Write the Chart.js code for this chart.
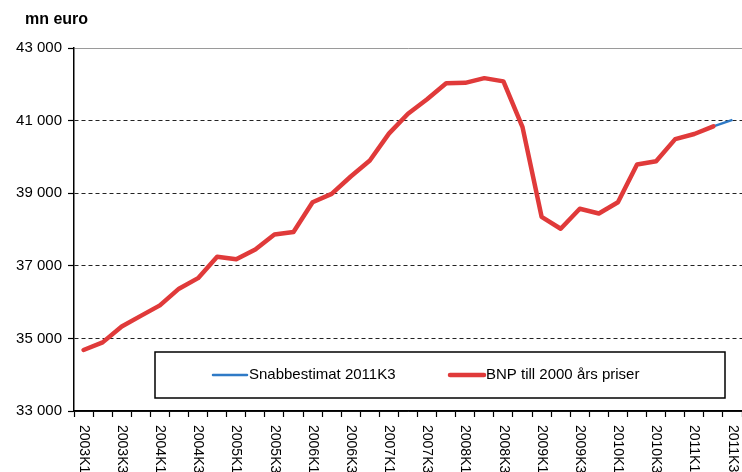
<!DOCTYPE html>
<html>
<head>
<meta charset="utf-8">
<script src="https://cdn.jsdelivr.net/npm/chart.js@4.4.1/dist/chart.umd.min.js"></script>
<style>
html, body { margin: 0; padding: 0; background: #fff; }
#wrap { width: 742px; height: 472px; }
</style>
</head>
<body>
<div id="wrap"><canvas id="myChart" width="742" height="472"></canvas></div>
<script>
// kvartal 2003K1 .. 2011K3
const kvartal = [
    '2003K1', '2003K2', '2003K3', '2003K4', '2004K1', '2004K2', '2004K3', '2004K4',
    '2005K1', '2005K2', '2005K3', '2005K4', '2006K1', '2006K2', '2006K3', '2006K4',
    '2007K1', '2007K2', '2007K3', '2007K4', '2008K1', '2008K2', '2008K3', '2008K4',
    '2009K1', '2009K2', '2009K3', '2009K4', '2010K1', '2010K2', '2010K3', '2010K4',
    '2011K1', '2011K2', '2011K3'
];

// BNP till 2000 års priser, mn euro
const bnp = [
    34680, 34890, 35330, 35620, 35910, 36370, 36660, 37250,
    37180, 37450, 37860, 37930, 38750, 38980, 39460, 39900,
    40640, 41190, 41590, 42030, 42040, 42170, 42080, 40820,
    38350, 38020, 38570, 38440, 38750, 39790, 39880, 40490,
    40630, 40840, null
];

// Snabbestimat 2011K3
const snabb = [
    null, null, null, null, null, null, null, null,
    null, null, null, null, null, null, null, null,
    null, null, null, null, null, null, null, null,
    null, null, null, null, null, null, null, null,
    null, 40840, 41020
];

const yTicks = [33000, 35000, 37000, 39000, 41000, 43000];

const fontFam = 'Arial, "Liberation Sans", sans-serif';

// rubrik, x-etiketter (lodräta, uppifrån och ned) + legendruta
const extras = {
    id: 'extras',
    afterDraw(chart) {
        const c = chart.ctx;
        const xs = chart.scales.x;
        const area = chart.chartArea;
        c.save();
        c.fillStyle = '#000';
        c.font = 'bold 16px ' + fontFam;
        c.textAlign = 'left';
        c.textBaseline = 'middle';
        c.fillText('mn euro', 25, 20);

        c.font = '14px ' + fontFam;
        kvartal.forEach((k, i) => {
            if (i % 2 !== 0) return;
            const x = xs.getPixelForValue(i);
            c.save();
            c.translate(x, area.bottom + 14);
            c.rotate(Math.PI / 2);
            c.fillText(k, 0, 0);
            c.restore();
        });

        // legend
        const bx = 155, by = 352, bw = 570, bh = 46;
        c.fillStyle = '#fff';
        c.fillRect(bx, by, bw, bh);
        c.strokeStyle = '#000';
        c.lineWidth = 1.5;
        c.strokeRect(bx, by, bw, bh);
        const ly = by + bh / 2;
        const items = [
            { ds: chart.data.datasets[0], x: 213 },
            { ds: chart.data.datasets[1], x: 450 }
        ];
        c.font = '15px ' + fontFam;
        c.fillStyle = '#000';
        items.forEach(it => {
            c.strokeStyle = it.ds.borderColor;
            c.lineWidth = it.ds.borderWidth;
            c.lineCap = 'round';
            c.beginPath();
            c.moveTo(it.x, ly);
            c.lineTo(it.x + 34, ly);
            c.stroke();
            c.fillText(it.ds.label, it.x + 36, ly);
        });
        c.restore();
    }
};

const ctx = document.getElementById('myChart').getContext('2d');
const myChart = new Chart(ctx, {
    type: 'line',
    data: {
        labels: kvartal,
        datasets: [
            {
                label: 'Snabbestimat 2011K3',
                data: snabb,
                borderColor: '#2f7ac6',
                borderWidth: 2.5,
                pointRadius: 0,
                tension: 0,
                spanGaps: false,
                order: 2
            },
            {
                label: 'BNP till 2000 års priser',
                data: bnp,
                borderColor: '#e03a3a',
                borderWidth: 4.5,
                borderJoinStyle: 'round',
                borderCapStyle: 'round',
                pointRadius: 0,
                tension: 0,
                order: 1
            }
        ]
    },
    options: {
        responsive: false,
        animation: false,
        devicePixelRatio: 1,
        layout: { padding: { left: 0, right: 0, top: 48, bottom: 0 } },
        plugins: {
            legend: { display: false },
            tooltip: { enabled: false },
            title: { display: false }
        },
        scales: {
            x: {
                type: 'category',
                offset: true,
                ticks: { display: false },
                grid: {
                    offset: true,
                    drawOnChartArea: false,
                    drawTicks: true,
                    tickLength: 6,
                    tickColor: '#000',
                    tickWidth: 1.2
                },
                border: { display: true, color: '#000', width: 1.5 },
                afterFit: s => { s.height = 61; }
            },
            y: {
                min: 33000,
                max: 43000,
                afterBuildTicks: s => { s.ticks = yTicks.map(v => ({ value: v })); },
                afterFit: s => { s.width = 74; },
                ticks: {
                    color: '#000',
                    padding: 6,
                    font: { family: fontFam, size: 15 },
                    callback: v => String(v).replace(/(\d{2})(\d{3})$/, '$1 $2')
                },
                grid: {
                    color: c => (c.tick && c.tick.value === 43000) ? '#9a9a9a' : '#222',
                    lineWidth: 1,
                    tickLength: 6,
                    tickColor: '#000',
                    tickWidth: 1.2
                },
                border: {
                    display: true,
                    color: '#000',
                    width: 1.5,
                    dash: c => (c.type === 'tick' && c.tick.value > 33000 && c.tick.value < 43000) ? [4, 3] : []
                }
            }
        }
    },
    plugins: [extras]
});
</script>
</body>
</html>
